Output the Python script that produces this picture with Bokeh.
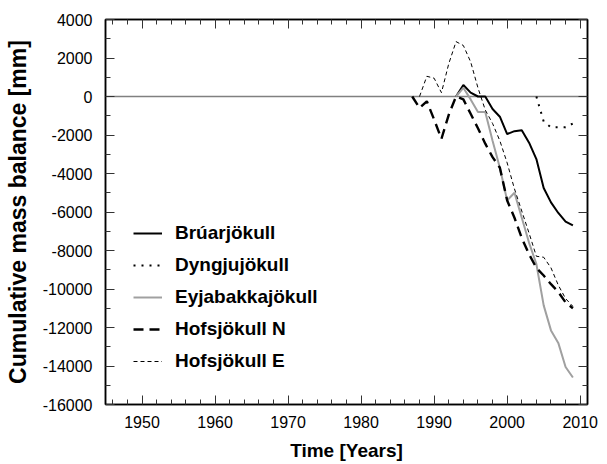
from bokeh.plotting import figure
from bokeh.models import (Range1d, FixedTicker, LinearAxis, Legend, LegendItem, Span,
                          CustomJSTickFormatter)
from bokeh.embed import file_html
from bokeh.resources import INLINE

# ---- data ----
years_bru = list(range(1993, 2010))
bru = [0, 600, 200, 0, 0, -650, -1050, -1950, -1800, -1750, -2400, -3250, -4750, -5500,
       -6050, -6500, -6700]

years_dyn = list(range(2004, 2010))
dyn = [0, -1300, -1600, -1600, -1600, -1400]

years_eyj = list(range(1993, 2010))
eyj = [0, 450, -150, -800, -800, -2300, -3700, -5400, -5000, -6300, -7600, -8700, -10850,
       -12150, -12800, -14050, -14600]

years_hn = list(range(1987, 2010))
hn = [0, -600, -250, -1200, -2200, -950, 0, -150, -900, -1650, -2450, -3150, -3700, -5400,
      -6300, -7350, -8200, -8900, -9300, -9750, -10150, -10700, -11000]

years_he = list(range(1988, 2010))
he = [0, 1050, 950, 200, 1700, 2850, 2650, 1800, 450, -700, -1400, -2300, -3450, -4800,
      -5950, -7100, -8300, -8350, -8900, -9800, -10500, -10900]

x_ticks = [1950, 1960, 1970, 1980, 1990, 2000, 2010]
x_minor = [1946, 1948, 1952, 1954, 1956, 1958, 1962, 1964, 1966, 1968, 1972, 1974, 1976,
           1978, 1982, 1984, 1986, 1988, 1992, 1994, 1996, 1998, 2002, 2004, 2006, 2008]
y_ticks = [4000, 2000, 0, -2000, -4000, -6000, -8000, -10000, -12000, -14000, -16000]
y_tick_labels = ["4000", "2000", "0", "-2000", "-4000", "-6000", "-8000", "-10000",
                 "-12000", "-14000", "-16000"]
y_minor = [3000, 1000, -1000, -3000, -5000, -7000, -9000, -11000, -13000, -15000]

x_label = "Time [Years]"
y_label = "Cumulative mass balance [mm]"

FONT = "Liberation Sans"

p = figure(width=607, height=464, output_backend="svg", toolbar_location=None,
           x_range=Range1d(1945, 2011), y_range=Range1d(-16000, 4000),
           min_border_left=105, min_border_right=20, min_border_top=19, min_border_bottom=60)
p.grid.visible = False
p.outline_line_color = "black"
p.outline_line_width = 1.5
p.background_fill_color = "white"
p.border_fill_color = "white"

bottom = p.below[0]
left = p.left[0]
xt = FixedTicker(ticks=x_ticks, minor_ticks=x_minor)
yt = FixedTicker(ticks=y_ticks, minor_ticks=y_minor)
bottom.ticker = xt
left.ticker = yt
left.major_label_overrides = {float(v): s for v, s in zip(y_ticks, y_tick_labels)}
left.major_label_overrides.update({int(v): s for v, s in zip(y_ticks, y_tick_labels)})

blank = CustomJSTickFormatter(code="return ''")
top = LinearAxis(ticker=xt, formatter=blank)
right = LinearAxis(ticker=yt, formatter=blank)
p.add_layout(top, "above")
p.add_layout(right, "right")

for ax in [bottom, left, top, right]:
    ax.axis_line_color = "black"
    ax.axis_line_width = 1.5
    ax.major_tick_in = 9
    ax.major_tick_out = 0
    ax.minor_tick_in = 5
    ax.minor_tick_out = 0
    ax.major_tick_line_color = "#333333"
    ax.minor_tick_line_color = "#333333"
    ax.major_label_text_font = FONT
    ax.major_label_text_font_size = "16px"
    ax.major_label_text_color = "black"

bottom.major_label_standoff = 11
left.major_label_standoff = 13
for ax in [top, right]:
    ax.major_label_standoff = 0

bottom.axis_label = x_label
bottom.axis_label_text_font = FONT
bottom.axis_label_text_font_style = "bold"
bottom.axis_label_text_font_size = "19px"
bottom.axis_label_text_color = "black"
bottom.axis_label_standoff = 9

left.axis_label = y_label
left.axis_label_text_font = FONT
left.axis_label_text_font_style = "bold"
left.axis_label_text_font_size = "23px"
left.axis_label_text_color = "black"
left.axis_label_standoff = 9

p.add_layout(Span(location=0, dimension="width", line_color="#808080", line_width=1.5,
                  level="underlay"))

r_bru = p.line(years_bru, bru, line_color="black", line_width=2)
r_dyn = p.line(years_dyn, dyn, line_color="black", line_width=2, line_dash="2 6")
r_eyj = p.line(years_eyj, eyj, line_color="#a0a0a0", line_width=2)
r_hn = p.line(years_hn, hn, line_color="black", line_width=2.4, line_dash="10 6")
r_he = p.line(years_he, he, line_color="black", line_width=1, line_dash="4 3")

legend = Legend(items=[
    LegendItem(label="Brúarjökull", renderers=[r_bru]),
    LegendItem(label="Dyngjujökull", renderers=[r_dyn]),
    LegendItem(label="Eyjabakkajökull", renderers=[r_eyj]),
    LegendItem(label="Hofsjökull N", renderers=[r_hn]),
    LegendItem(label="Hofsjökull E", renderers=[r_he]),
], location=(28, 27))
legend.label_text_font = FONT
legend.label_text_font_style = "bold"
legend.label_text_font_size = "19px"
legend.label_text_color = "black"
legend.glyph_width = 29
legend.glyph_height = 32
legend.label_height = 32
legend.spacing = 0
legend.padding = 0
legend.margin = 0
legend.label_standoff = 13
legend.background_fill_alpha = 0
legend.border_line_alpha = 0
p.add_layout(legend)

open("out.html", "w").write(file_html(p, INLINE))
